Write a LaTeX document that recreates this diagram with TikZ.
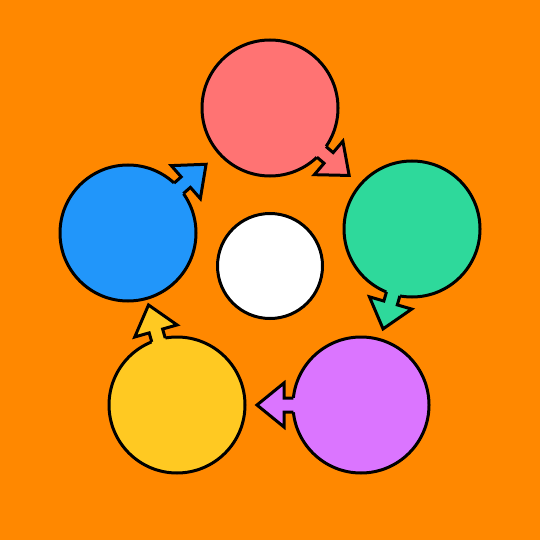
\documentclass[tikz,border=0pt]{standalone}
\usepackage{xcolor}
\usetikzlibrary{calc}

\begin{document}
\begin{tikzpicture}[x=1pt,y=-1pt,
  mynode/.style={circle,draw=black,line width=3pt,minimum size=136pt,inner sep=0pt},
  myarrow/.style={draw=black,line width=3pt}]
\definecolor{tangerine}{HTML}{FF8800}
\definecolor{rose}{HTML}{FF7373}
\definecolor{mint}{HTML}{2ED99B}
\definecolor{lilac}{HTML}{DB75FF}
\definecolor{sun}{HTML}{FFC922}
\definecolor{sky}{HTML}{2196FA}
\fill[tangerine] (0,0) rectangle (540,540);
  \foreach \crlr/\x/\y in {rose/270/108,mint/412/229,lilac/361/405,sun/177/405,sky/128/233}
  {  \node [mynode,fill=\crlr] (\crlr) at (\x,\y) {};}
\node [mynode,fill=white,minimum size=105pt] (hub) at (270,266) {};
  \foreach \from/\to in {rose/mint,mint/lilac,lilac/sun,sun/sky,sky/rose}
  {  \path let \p1=($(\to.center)-(\from.center)$), \n1={atan2(\y1,\x1)} in
       \pgfextra{\xdef\ang{\n1}};
     \begin{scope}[shift={(\from.center)},rotate=\ang]
     \fill[\from] (58pt,7pt) -- (77pt,7pt) -- (77pt,22pt) -- (104pt,0pt)
       -- (77pt,-22pt) -- (77pt,-7pt) -- (58pt,-7pt) -- cycle;
     \draw[myarrow] (67.6pt,7pt) -- (77pt,7pt) -- (77pt,22pt) -- (104pt,0pt)
       -- (77pt,-22pt) -- (77pt,-7pt) -- (67.6pt,-7pt);
     \end{scope}}
\end{tikzpicture}
\end{document}
